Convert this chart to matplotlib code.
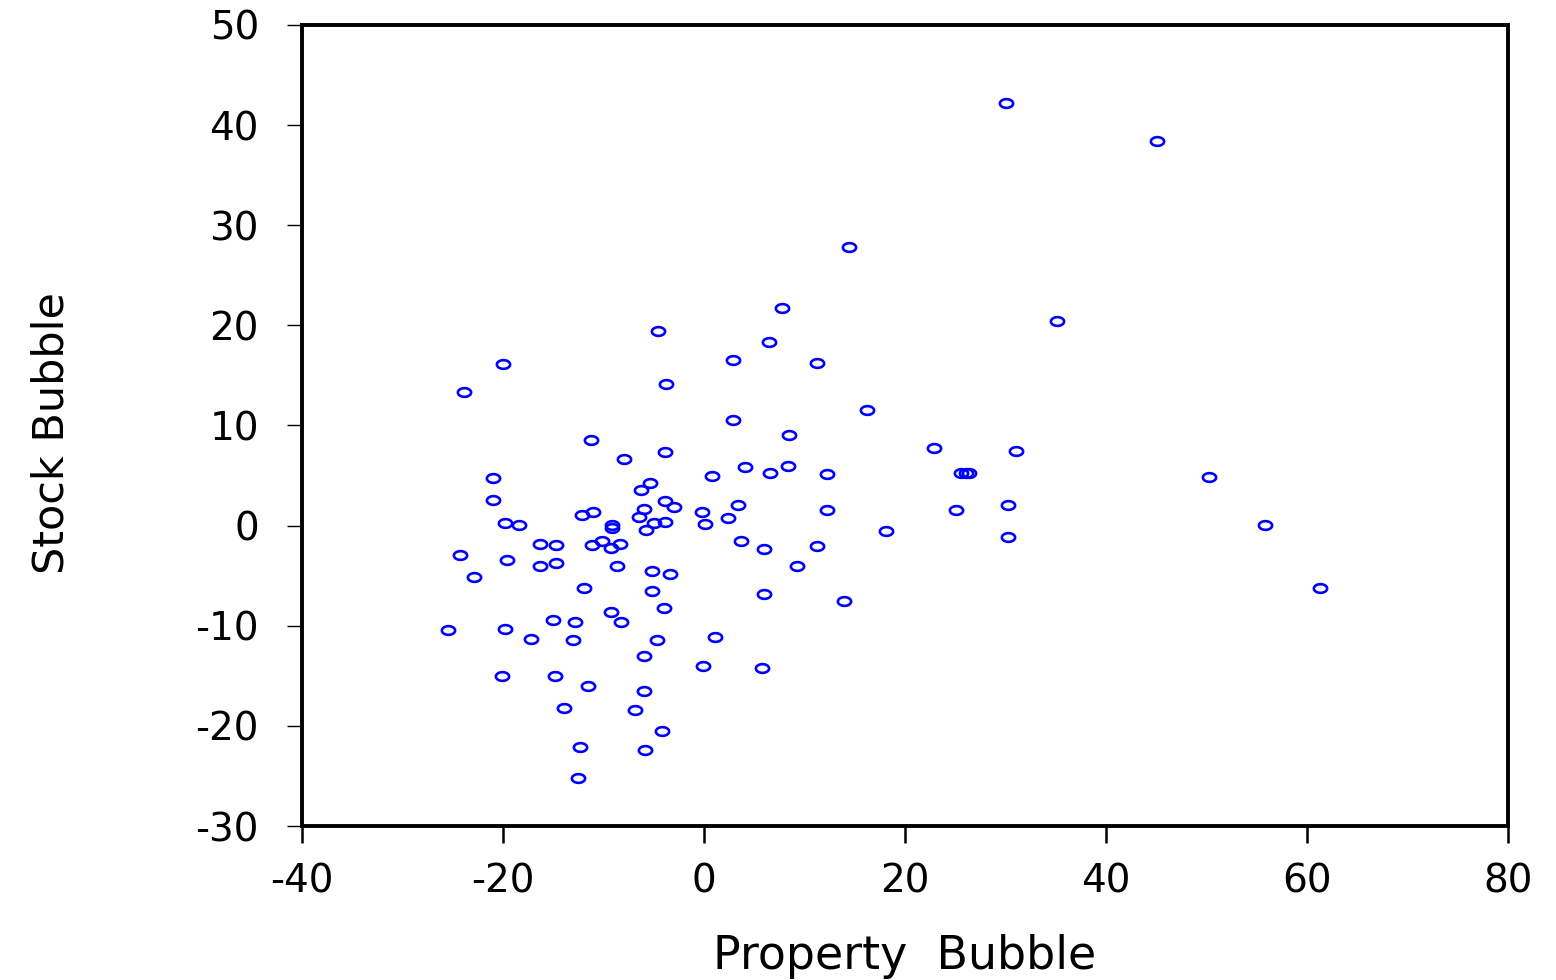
import numpy as np
import matplotlib
matplotlib.use("Agg")
import matplotlib.pyplot as plt
from matplotlib.path import Path

property_bubble = [
    30.0, 45.1, 14.4, 7.8, -4.6, 35.1, 6.5, 2.9, 11.2, -20.0,
    -23.9, -3.8, 16.2, 2.9, 8.5, -11.2, 22.9, 31.0, -3.9, -8.0,
    4.1, 8.4, 6.6, 12.2, 0.8, 25.6, 26.1, 26.4, -21.0, 50.2,
    -5.4, -6.3, -21.0, -3.9, -3.0, 3.4, 30.2, -6.0, -0.2, -11.0,
    -12.1, 12.2, 25.1, -6.5, 2.4, -19.8, -18.4, -9.2, -9.15, -5.0,
    -3.9, 0.1, 55.8, -5.8, 18.1, 30.2, -10.1, 3.7, -16.3, -14.7,
    -11.1, -8.4, -9.3, 6.0, 11.2, -24.3, -19.6, -14.7, -16.3, -8.7,
    9.3, -5.2, -3.4, -22.9, -11.9, -5.2, 6.0, 61.3, 13.9, -4.0,
    -9.3, -15.0, -12.8, -8.3, -25.5, -19.8, -17.2, -13.0, -4.7, 1.1,
    -6.0, -0.1, 5.8, -20.1, -14.8, -11.5, -6.0, -13.9, -6.9, -4.2,
    -12.3, -5.9, -12.5,
]
stock_bubble = [
    42.2, 38.4, 27.8, 21.7, 19.4, 20.4, 18.3, 16.5, 16.2, 16.1,
    13.3, 14.1, 11.5, 10.5, 9.1, 8.6, 7.8, 7.5, 7.4, 6.7,
    5.9, 6.0, 5.3, 5.2, 5.0, 5.3, 5.3, 5.3, 4.8, 4.9,
    4.3, 3.6, 2.6, 2.5, 1.9, 2.1, 2.1, 1.7, 1.4, 1.4,
    1.1, 1.6, 1.6, 0.9, 0.8, 0.3, 0.1, 0.05, -0.2, 0.3,
    0.4, 0.2, 0.1, -0.4, -0.5, -1.1, -1.5, -1.5, -1.8, -1.9,
    -1.9, -1.8, -2.2, -2.3, -2.0, -2.9, -3.4, -3.7, -4.0, -4.0,
    -4.0, -4.5, -4.8, -5.1, -6.2, -6.5, -6.8, -6.2, -7.5, -8.2,
    -8.6, -9.4, -9.6, -9.6, -10.4, -10.3, -11.3, -11.4, -11.4, -11.1,
    -13.0, -14.0, -14.2, -15.0, -15.0, -16.0, -16.5, -18.2, -18.4, -20.5,
    -22.1, -22.4, -25.2,
]

x_ticks = [-40, -20, 0, 20, 40, 60, 80]
y_ticks = [-30, -20, -10, 0, 10, 20, 30, 40, 50]

plt.rcParams['font.family'] = ['DejaVu Sans']

# flat ellipse marker, like the stretched circles in the original
t = np.linspace(0, 2 * np.pi, 60)
ellipse = Path(np.column_stack([np.cos(t), 0.66 * np.sin(t)]), closed=True)

fig = plt.figure(figsize=(15.56, 9.8), dpi=100)
ax = fig.add_axes([302 / 1556, 154 / 980, 1206 / 1556, 801 / 980])

ax.plot(property_bubble, stock_bubble, linestyle='none', marker=ellipse,
        markersize=9.5, markerfacecolor='none', markeredgecolor='#0000ff',
        markeredgewidth=1.9)

ax.set_xlim(-40, 80)
ax.set_ylim(-30, 50)
ax.set_xticks(x_ticks)
ax.set_yticks(y_ticks)
ax.set_xticklabels([str(v) for v in x_ticks])
ax.set_yticklabels([str(v) for v in y_ticks])

for s in ax.spines.values():
    s.set_linewidth(2.8)
ax.tick_params(axis='y', direction='out', length=11, width=1.0, pad=20, labelsize=28)
ax.tick_params(axis='x', direction='out', length=12, width=1.8, pad=14, labelsize=28)

ax.set_xlabel('Property  Bubble', fontsize=33)
ax.set_ylabel('Stock Bubble', fontsize=31)
ax.xaxis.set_label_coords(0.5, -0.135)
ax.yaxis.set_label_coords(-0.19, 0.49)

fig.savefig('out.png', dpi=100)
